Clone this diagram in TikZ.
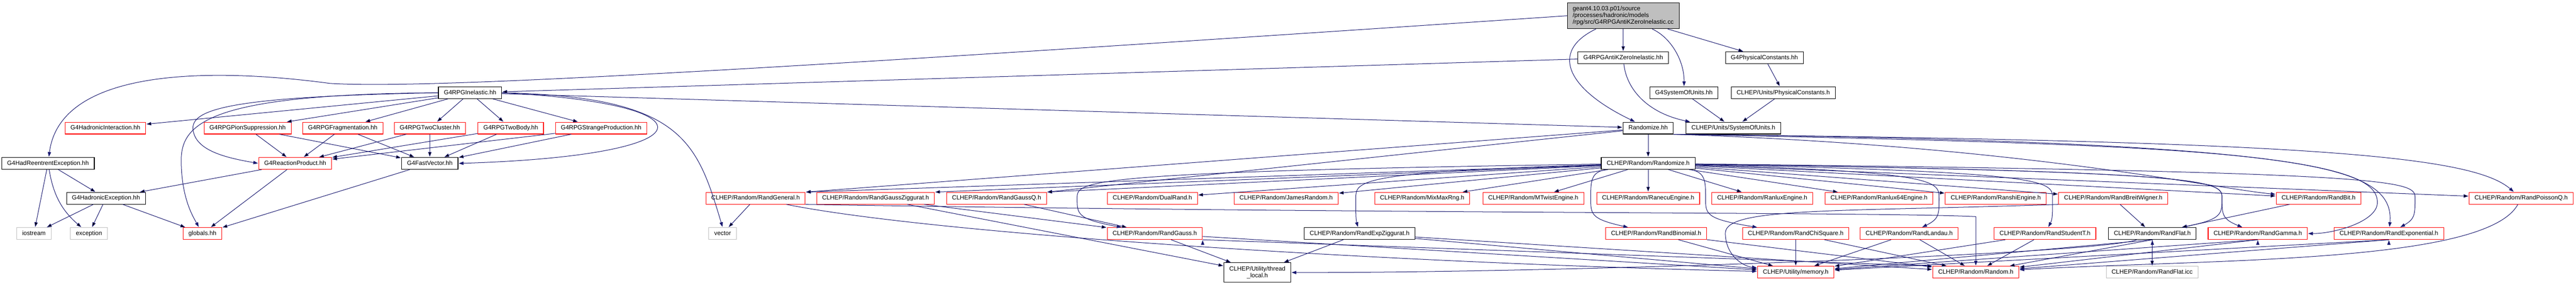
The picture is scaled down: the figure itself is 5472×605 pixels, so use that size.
\documentclass[tikz,border=0pt]{standalone}
\usepackage{fontspec}
\setmainfont{Liberation Sans}
\usetikzlibrary{arrows.meta}
\definecolor{edgeblue}{RGB}{25,25,112}
\definecolor{sysgrey}{RGB}{191,191,191}
\begin{document}
\begin{tikzpicture}[x=1pt,y=-1pt,shorten >=1pt,->,>={Triangle[length=10pt,width=7pt]}]
        \tikzstyle{box}=[draw=black,line width=1.2pt,rectangle,inner xsep=11.5pt,inner ysep=0pt,font=\fontsize{13}{14.5}\selectfont]
        \tikzstyle{file}=[box,minimum height=25pt,text height=9.5pt,text depth=2.5pt]
        \tikzstyle{trunc}=[file,draw=red]
        \tikzstyle{sys}=[file,draw=sysgrey]
        \tikzstyle{edge}=[draw=edgeblue,line width=1.1pt]
        \useasboundingbox (0,0) rectangle (5472,605);

         \node [box,fill=sysgrey,align=left,minimum height=55pt] (main) at (3448,33.5) {geant4.10.03.p01/source\\/processes/hadronic/models\\/rpg/src/G4RPGAntiKZeroInelastic.cc};
         \node [file] (antikzero) at (3448,122.5) {G4RPGAntiKZeroInelastic.hh};
         \node [file] (physconst) at (3748,122.5) {G4PhysicalConstants.hh};
         \node [file] (rpginel) at (998.5,197) {G4RPGInelastic.hh};
         \node [file] (g4sou) at (3577,197) {G4SystemOfUnits.hh};
         \node [file] (clhepphys) at (3788,197) {CLHEP/Units/PhysicalConstants.h};
         \node [trunc] (hadint) at (224,272) {G4HadronicInteraction.hh};
         \node [trunc] (pionsup) at (526,272) {G4RPGPionSuppression.hh};
         \node [trunc] (frag) at (728,272) {G4RPGFragmentation.hh};
         \node [trunc] (twocl) at (913,272) {G4RPGTwoCluster.hh};
         \node [trunc] (twobody) at (1085,272) {G4RPGTwoBody.hh};
         \node [trunc] (strange) at (1277,272) {G4RPGStrangeProduction.hh};
         \node [file] (randomizehh) at (3501,272) {Randomize.hh};
         \node [file] (clhepsou) at (3682,272) {CLHEP/Units/SystemOfUnits.h};
         \node [file] (reentrant) at (102,347) {G4HadReentrentException.hh};
         \node [trunc] (reaction) at (627,347) {G4ReactionProduct.hh};
         \node [file] (fastvec) at (913,347) {G4FastVector.hh};
         \node [file] (randomizeh) at (3501,347) {CLHEP/Random/Randomize.h};
         \node [file] (hadexc) at (225,421) {G4HadronicException.hh};
         \node [trunc] (rgeneral) at (1605,421) {CLHEP/Random/RandGeneral.h};
         \node [trunc] (rgzig) at (1860,421) {CLHEP/Random/RandGaussZiggurat.h};
         \node [trunc] (rgaussq) at (2117,421) {CLHEP/Random/RandGaussQ.h};
         \node [trunc] (dualrand) at (2448,421) {CLHEP/Random/DualRand.h};
         \node [trunc] (james) at (2732,421) {CLHEP/Random/JamesRandom.h};
         \node [trunc] (mixmax) at (3021,421) {CLHEP/Random/MixMaxRng.h};
         \node [trunc] (mtwist) at (3257,421) {CLHEP/Random/MTwistEngine.h};
         \node [trunc] (ranecu) at (3501,421) {CLHEP/Random/RanecuEngine.h};
         \node [trunc] (ranlux) at (3743.5,421) {CLHEP/Random/RanluxEngine.h};
         \node [trunc] (ranlux64) at (3991.5,421) {CLHEP/Random/Ranlux64Engine.h};
         \node [trunc] (ranshi) at (4239.5,421) {CLHEP/Random/RanshiEngine.h};
         \node [trunc] (rbreit) at (4489,421) {CLHEP/Random/RandBreitWigner.h};
         \node [trunc] (rbit) at (4925,421) {CLHEP/Random/RandBit.h};
         \node [trunc] (rpoissonq) at (5355.5,421) {CLHEP/Random/RandPoissonQ.h};
         \node [sys] (iostream) at (72,496) {iostream};
         \node [sys] (exception) at (189,496) {exception};
         \node [trunc] (globals) at (430,496) {globals.hh};
         \node [sys] (vector) at (1535,496) {vector};
         \node [trunc] (rgauss) at (2453,496) {CLHEP/Random/RandGauss.h};
         \node [file] (rexpzig) at (2888,496) {CLHEP/Random/RandExpZiggurat.h};
         \node [trunc] (rbinom) at (3518,496) {CLHEP/Random/RandBinomial.h};
         \node [trunc] (rchisq) at (3814.5,496) {CLHEP/Random/RandChiSquare.h};
         \node [trunc] (rlandau) at (4055.5,496) {CLHEP/Random/RandLandau.h};
         \node [trunc] (rstudent) at (4344,496) {CLHEP/Random/RandStudentT.h};
         \node [file] (rflat) at (4572,496) {CLHEP/Random/RandFlat.h};
         \node [trunc] (rgamma) at (4796,496) {CLHEP/Random/RandGamma.h};
         \node [trunc] (rexp) at (5074.5,496) {CLHEP/Random/RandExponential.h};
         \node [box,align=center,minimum height=41pt] (threadlocal) at (2671,578.5) {CLHEP/Utility/thread\\\_local.h};
         \node [trunc] (memory) at (3814.5,578) {CLHEP/Utility/memory.h};
         \node [trunc] (random) at (4197,578) {CLHEP/Random/Random.h};
         \node [sys] (flaticc) at (4571.5,578) {CLHEP/Random/RandFlat.icc};

         \path[edge] (main) edge (antikzero) edge (physconst);
         \path[edge] (main) .. controls (3550,80) and (3578,130) .. (g4sou);
         \path[edge] (main) .. controls (3290,110) and (3330,190) .. (randomizehh);
         \path[edge] (main.west) .. controls (1600,150) and (900,190) .. (700,177) .. controls (500,150) and (130,130) .. (reentrant);

         \path[edge] (antikzero) edge (rpginel);
         \path[edge] (antikzero) .. controls (3455,190) and (3500,240) .. ([xshift=10pt]clhepsou.north west);
         \path[edge] (physconst) edge (clhepphys);
         \path[edge] (g4sou) edge (clhepsou);
         \path[edge] (clhepphys) edge (clhepsou);

         \path[edge] (rpginel) edge (hadint) edge (pionsup) edge (frag) edge (twocl) edge (twobody) edge (strange) edge (randomizehh);
         \path[edge] (rpginel.west) .. controls (500,205) and (405,230) .. (410,275) .. controls (415,320) and (480,335) .. (reaction.west);
         \path[edge] (rpginel.west) .. controls (450,200) and (385,260) .. (385,340) .. controls (385,420) and (410,460) .. (globals);
         \path[edge] (rpginel.east) .. controls (1520,220) and (1520,330) .. (fastvec.east);
         \path[edge] (rpginel.east) .. controls (1450,205) and (1480,300) .. (vector.north);

         \path[edge] (reentrant) edge (hadexc) edge (iostream) edge [bend right=20] (exception);
         \path[edge] (hadexc) edge (iostream) edge (exception) edge (globals);
         \path[edge] (reaction) edge (hadexc) edge (globals);
         \path[edge] (fastvec) edge (globals);
         \path[edge] (pionsup) edge (reaction) edge (fastvec);
         \path[edge] (frag) edge (reaction) edge (fastvec);
         \path[edge] (twocl) edge (reaction) edge (fastvec);
         \path[edge] (twobody) edge (reaction) edge (fastvec);
         \path[edge] (strange) edge (reaction) edge (fastvec);

         \path[edge] (randomizehh) edge (randomizeh) edge (rgeneral.north east) edge (rgaussq.north east);
         \path[edge] (randomizehh.south east) .. controls (4300,310) and (4700,400) .. (rbit);
         \path[edge] (randomizehh.south east) .. controls (4900,300) and (5250,330) .. (rpoissonq);
         \path[edge] (randomizehh.south east) .. controls (4800,310) and (5090,330) .. (rexp);
         \path[edge] (randomizehh.south east) .. controls (4900,300) and (5050,360) .. (5050,430) .. controls (5050,470) and (4960,496) .. (rgamma.east);

         \path[edge] (randomizeh) edge (rgeneral.north east) edge (rgzig.north east) edge (rgaussq.north east) edge (dualrand) edge (james) edge (mixmax) edge (mtwist) edge (ranecu);
         \path[edge] (randomizeh) edge (ranlux) edge (ranlux64) edge (ranshi) edge (rbreit) edge (rbit) edge (rpoissonq);
         \path[edge] (randomizeh) .. controls (2288,365) and (2288,385) .. (2288,421) .. controls (2288,455) and (2288,465) .. (rgauss);
         \path[edge] (randomizeh) .. controls (2880,365) and (2880,385) .. (2880,421) .. controls (2880,455) and (2880,465) .. (rexpzig);
         \path[edge] (randomizeh) .. controls (3379,365) and (3379,385) .. (3379,421) .. controls (3379,455) and (3379,465) .. (rbinom);
         \path[edge] (randomizeh) .. controls (3623,365) and (3623,385) .. (3623,421) .. controls (3623,455) and (3623,465) .. (rchisq);
         \path[edge] (randomizeh) .. controls (4119,365) and (4119,385) .. (4119,421) .. controls (4119,455) and (4119,465) .. (rlandau);
         \path[edge] (randomizeh) .. controls (4360,365) and (4360,385) .. (4360,421) .. controls (4360,455) and (4360,465) .. (rstudent);
         \path[edge] (randomizeh) .. controls (4720,365) and (4720,385) .. (4720,421) .. controls (4720,455) and (4720,465) .. (rflat);
         \path[edge] (randomizeh) .. controls (4720,365) and (4720,385) .. (4720,421) .. controls (4720,455) and (4720,465) .. (rgamma);
         \path[edge] (randomizeh) .. controls (5130,365) and (5130,385) .. (5130,421) .. controls (5130,455) and (5130,465) .. (rexp);

         \path[edge] (rgeneral) edge (vector);
         \path[edge] (rgeneral) .. controls (2000,500) and (3000,560) .. (memory);
         \path[edge] (rgeneral.south east) .. controls (3000,455) and (4000,450) .. (4197,460) -- (random);
         \path[edge] (rgzig) edge (rgauss) edge (threadlocal);
         \path[edge] (rgaussq) edge (rgauss);
         \path[edge] (rgauss) edge (threadlocal) edge (memory);
         \path[edge] (rgauss.south east) edge (random.north west);
         \path[edge] (rexpzig) edge (threadlocal) edge (memory) edge (random);
         \path[edge] (rbinom) edge (memory) edge (random);
         \path[edge] (rchisq) edge (memory) edge (random);
         \path[edge] (rlandau) edge (memory) edge (random);
         \path[edge] (rstudent) edge (memory) edge (random);
         \path[edge] (rflat) edge (flaticc);
         \path[edge] (rflat.south) edge (memory) edge (random);
         \path[edge] (rflat) .. controls (4460,540) and (3300,580) .. (threadlocal);
         \path[edge] (rgamma.south) edge (memory) edge (random);
         \path[edge] (rexp.south) edge (memory) edge (random);
         \path[edge] (rbit) edge (rflat);
         \path[edge] (rbreit) edge (rflat);
         \path[edge] (rbreit.south west) .. controls (3900,450) and (3665,440) .. (3665,495) .. controls (3665,540) and (3700,565) .. (memory);
         \path[edge] (rpoissonq) .. controls (5280,560) and (4700,550) .. (random);
      \end{tikzpicture}
\end{document}
